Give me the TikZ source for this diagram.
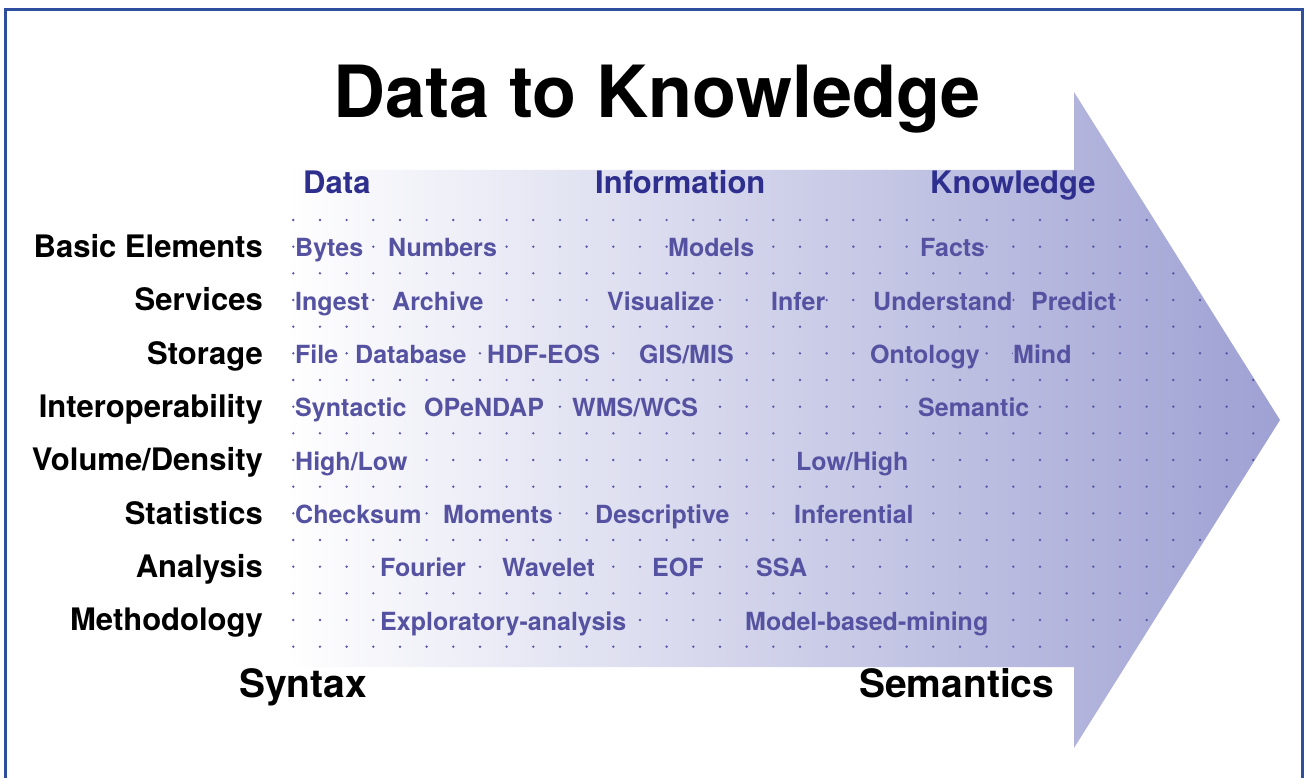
\documentclass[tikz,border=0pt]{standalone}
\usepackage{fontspec}
\setmainfont{TeX Gyre Heros}
\definecolor{framec}{HTML}{2F4E9E}
\definecolor{itemc}{HTML}{5652A2}
\definecolor{headc}{HTML}{2D2E8E}
\definecolor{dotc}{HTML}{5A58A8}
\definecolor{arrowend}{HTML}{9EA1D3}
\pgfdeclarelayer{paperlayer}
\pgfdeclarelayer{arrowlayer}
\pgfdeclarelayer{dotlayer}
\pgfdeclarelayer{coverlayer}
\pgfsetlayers{paperlayer,arrowlayer,dotlayer,coverlayer,main}
\tikzset{
  item/.style={anchor=base west, inner sep=0pt, text=itemc, font=\fontsize{25}{30}\selectfont\bfseries},
  rowlabel/.style={anchor=base east, inner sep=0pt, font=\fontsize{31}{36}\selectfont\bfseries},
  header/.style={anchor=base west, inner sep=0pt, text=headc, font=\fontsize{31}{36}\selectfont\bfseries},
  endlabel/.style={anchor=base west, inner sep=0pt, font=\fontsize{39}{44}\selectfont\bfseries},
  arrowshade/.style={left color=white, right color=arrowend},
  gridot/.style={fill=dotc},
  framestyle/.style={draw=framec, line width=3pt},
}
\def\arrowpath{(285,170) -- (1074,170) -- (1074,92) -- (1280,420) -- (1074,748) -- (1074,667) -- (285,667) -- cycle}
\begin{document}
\begin{tikzpicture}[x=1pt,y=-1pt]
\useasboundingbox (0,0) rectangle (1306,778);
\begin{pgfonlayer}{paperlayer}
\fill[white] (0,0) rectangle (1306,778);
\end{pgfonlayer}
\draw[framestyle] (5.5,778) -- (5.5,9.5) -- (1302.5,9.5) -- (1302.5,778);

\begin{pgfonlayer}{arrowlayer}
\shade[arrowshade] \arrowpath;
\end{pgfonlayer}

\begin{pgfonlayer}{dotlayer}
\begin{scope}
\clip \arrowpath;
\foreach \i in {0,...,37}
  \foreach \j in {0,...,16}
    \fill[gridot] (293.3+\i*26.667, 220+\j*26.667) circle (1.35pt);
\end{scope}
\end{pgfonlayer}

% title
\node[anchor=base, inner sep=0pt, font=\fontsize{72}{80}\selectfont\bfseries] (title) at (657,118) {Data to Knowledge};

% headers
\node[header] (hdata) at (303,194) {Data};
\node[header] (hinfo) at (595,194) {Information};
\node[header] (hknow) at (930,194) {Knowledge};

% row labels
\node[rowlabel] (l1) at (263,257.3) {Basic Elements};
\node[rowlabel] (l2) at (263,310.7) {Services};
\node[rowlabel] (l3) at (263,364) {Storage};
\node[rowlabel] (l4) at (263,417.3) {Interoperability};
\node[rowlabel] (l5) at (263,470.7) {Volume/Density};
\node[rowlabel] (l6) at (263,524) {Statistics};
\node[rowlabel] (l7) at (263,577.3) {Analysis};
\node[rowlabel] (l8) at (263,630.7) {Methodology};

% row 1
\node[item] (a1) at (295,256.8) {Bytes};
\node[item] (a2) at (388,256.8) {Numbers};
\node[item] (a3) at (668,256.8) {Models};
\node[item] (a4) at (920,256.8) {Facts};
% row 2
\node[item] (b1) at (295,310.2) {Ingest};
\node[item] (b2) at (392,310.2) {Archive};
\node[item] (b3) at (607,310.2) {Visualize};
\node[item] (b4) at (771,310.2) {Infer};
\node[item] (b5) at (873,310.2) {Understand};
\node[item] (b6) at (1031,310.2) {Predict};
% row 3
\node[item] (c1) at (295,363.5) {File};
\node[item] (c2) at (355,363.5) {Database};
\node[item] (c3) at (487,363.5) {HDF-EOS};
\node[item] (c4) at (639,363.5) {GIS/MIS};
\node[item] (c5) at (870,363.5) {Ontology};
\node[item] (c6) at (1013,363.5) {Mind};
% row 4
\node[item] (d1) at (295,416.8) {Syntactic};
\node[item] (d2) at (424,416.8) {OPeNDAP};
\node[item] (d3) at (572,416.8) {WMS/WCS};
\node[item] (d4) at (918,416.8) {Semantic};
% row 5
\node[item] (e1) at (295,470.2) {High/Low};
\node[item] (e2) at (796,470.2) {Low/High};
% row 6
\node[item] (f1) at (295,523.5) {Checksum};
\node[item] (f2) at (443,523.5) {Moments};
\node[item] (f3) at (595,523.5) {Descriptive};
\node[item] (f4) at (794,523.5) {Inferential};
% row 7
\node[item] (g1) at (380,576.8) {Fourier};
\node[item] (g2) at (502,576.8) {Wavelet};
\node[item] (g3) at (652,576.8) {EOF};
\node[item] (g4) at (756,576.8) {SSA};
% row 8
\node[item] (h1) at (380,630.2) {Exploratory-analysis};
\node[item] (h2) at (745,630.2) {Model-based-mining};

% bottom labels
\node[endlabel] (syn) at (239,697) {Syntax};
\node[endlabel] (sem) at (859,697) {Semantics};

% hide grid dots behind the texts
\begin{pgfonlayer}{coverlayer}
\begin{scope}
\clip \foreach \n in {a1,a2,a3,a4,b1,b2,b3,b4,b5,b6,c1,c2,c3,c4,c5,c6,d1,d2,d3,d4,e1,e2,f1,f2,f3,f4,g1,g2,g3,g4,h1,h2}
  {(\n.south west) rectangle (\n.north east)};
\shade[arrowshade] \arrowpath;
\end{scope}
\end{pgfonlayer}
\end{tikzpicture}
\end{document}
